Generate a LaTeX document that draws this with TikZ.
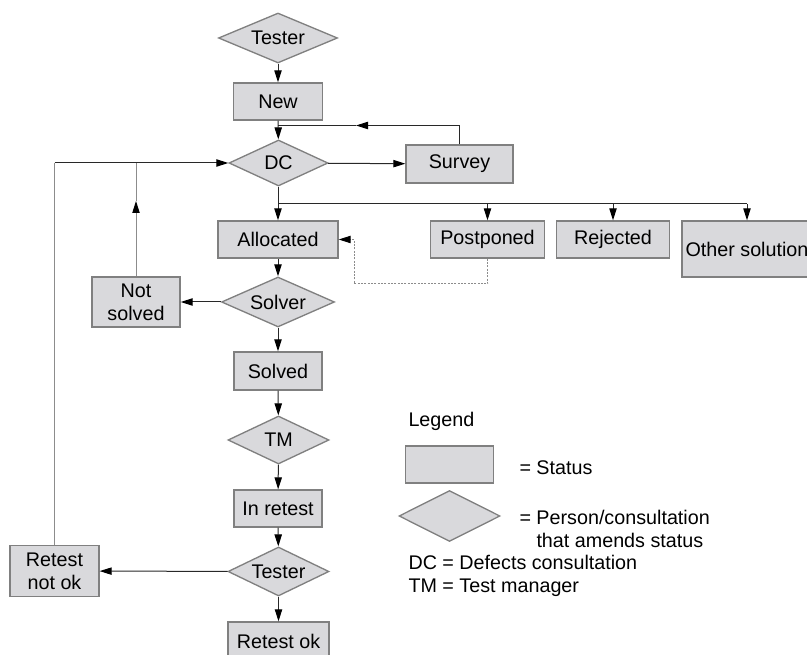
\documentclass[tikz,border=0pt]{standalone}
\usepackage{fontspec}
\setmainfont{Liberation Sans}
\usetikzlibrary{shapes.geometric,arrows.meta}

\definecolor{boxfill}{RGB}{217,217,220}
\definecolor{boxline}{RGB}{128,128,128}
\definecolor{wire}{RGB}{40,40,40}
\definecolor{loopwire}{RGB}{140,140,140}

\tikzset{every picture/.style={line width=0.75pt}}
\tikzset{
  txt/.style={font=\fontsize{14.8}{17.3}\selectfont, inner sep=0pt},
  sz/.style 2 args={minimum width=#1*0.75pt, minimum height=#2*0.75pt},
  status/.style={txt, rectangle, draw=boxline, fill=boxfill, line width=1pt, align=center},
  person/.style={txt, diamond, aspect=2.5, draw=boxline, fill=boxfill, line width=1pt},
  arr/.style={draw=wire, -{Triangle[length=9pt,width=5.5pt,color=black]}},
  loopline/.style={draw=loopwire},
  dashline/.style={draw=loopwire, dash pattern=on 1.5pt off 1pt}
}

\begin{document}
\begin{tikzpicture}[x=0.75pt,y=0.75pt,yscale=-1,xscale=1]
\useasboundingbox (0,0) rectangle (807,655);

%Shape: Diamond
\node [person, sz={119}{50}] (tester) at (278,38) {Tester};
%Shape: Rectangle
\node [status, sz={89}{37}] (new) at (278,101.5) {New};
%Shape: Diamond
\node [person, sz={99}{46}] (dc) at (278.5,163) {DC};
%Shape: Rectangle
\node [status, sz={107}{38}] (survey) at (459.5,164) {Survey};
%Shape: Rectangle
\node [status, sz={120}{37}] (alloc) at (278,239.5) {Allocated};
\node [status, sz={114}{37}] (postp) at (487.5,239.5) {Postponed};
\node [status, sz={113}{37}] (reject) at (613,239.5) {Rejected};
\node [status, sz={130}{56}] (other) at (747,249) {Other solution};
%Shape: Diamond
\node [person, sz={113}{50}] (solver) at (278,302) {Solver};
%Shape: Rectangle
\node [status, sz={88}{50}] (notsolved) at (136,302) {Not\\solved};
\node [status, sz={88}{38}] (solved) at (278,371) {Solved};
%Shape: Diamond
\node [person, sz={101}{48}] (tm) at (278.5,440) {TM};
%Shape: Rectangle
\node [status, sz={88}{37}] (inretest) at (278,508.5) {In retest};
%Shape: Diamond
\node [person, sz={101}{49}] (tester2) at (278.5,571.5) {Tester};
%Shape: Rectangle
\node [status, sz={89}{51}] (retnotok) at (54.5,571) {Retest\\not ok};
\node [status, sz={101}{38}] (retok) at (278.5,641) {Retest ok};

%Straight Lines
\draw [arr] (tester) -- (new);
\draw [arr] (new) -- (dc);
\draw [arr] (dc) -- (survey);
%Survey back to the trunk
\coordinate (backmid) at (356,125.5);
\coordinate (backend) at (278,125.5);
\draw [draw=wire] (backmid) -- (backend);
\draw [arr] (survey.north) |- (backmid);

%Loop from the left
\coordinate (loopcorner) at (retnotok.north |- dc.west);
\coordinate (nsjoin) at (notsolved.north |- dc.west);
\coordinate (nsarrow) at (136,201);
\draw [loopline] (retnotok.north) -- (loopcorner);
\draw [arr] (loopcorner) -- (dc.west);
\draw [loopline] (nsarrow) -- (nsjoin);
\draw [arr, loopline] (notsolved.north) -- (nsarrow);

%Branches under DC
\coordinate (brow) at (0,204);
\draw [draw=wire] (dc.south) -- (dc.south |- brow) -- (other.north |- brow);
\draw [arr] (alloc.north |- brow) -- (alloc.north);
\draw [arr] (postp.north |- brow) -- (postp.north);
\draw [arr] (reject.north |- brow) -- (reject.north);
\draw [arr] (other.north |- brow) -- (other.north);

%Postponed back to allocated
\coordinate (dashlow) at (354,284);
\draw [dashline, -{Triangle[length=9pt,width=5.5pt,color=black]}] (postp.south) |- (dashlow) |- (alloc.east);

%Straight Lines
\draw [arr] (alloc) -- (solver);
\draw [arr] (solver) -- (notsolved);
\draw [arr] (solver) -- (solved);
\draw [arr] (solved) -- (tm);
\draw [arr] (tm) -- (inretest);
\draw [arr] (inretest) -- (tester2);
\draw [arr] (tester2) -- (retnotok);
\draw [arr] (tester2) -- (retok);

% Text Node
\node [txt, anchor=west] (legend) at (408,421) {Legend};
%Shape: Rectangle
\node [status, sz={88}{37}] (legrect) at (449.5,464.5) {};
% Text Node
\node [txt, anchor=west] (legstatus) at (519,468) {= Status};
%Shape: Diamond
\node [person, sz={101}{51}] (legdiam) at (449.5,516) {};
% Text Node
\node [txt, anchor=west, align=left] (legperson) at (519,528.5) {= Person/consultation\\\phantom{= }that amends status};
% Text Node
\node [txt, anchor=west, align=left] (legabbr) at (408,575.5) {DC = Defects consultation\\TM = Test manager};

\end{tikzpicture}
\end{document}
